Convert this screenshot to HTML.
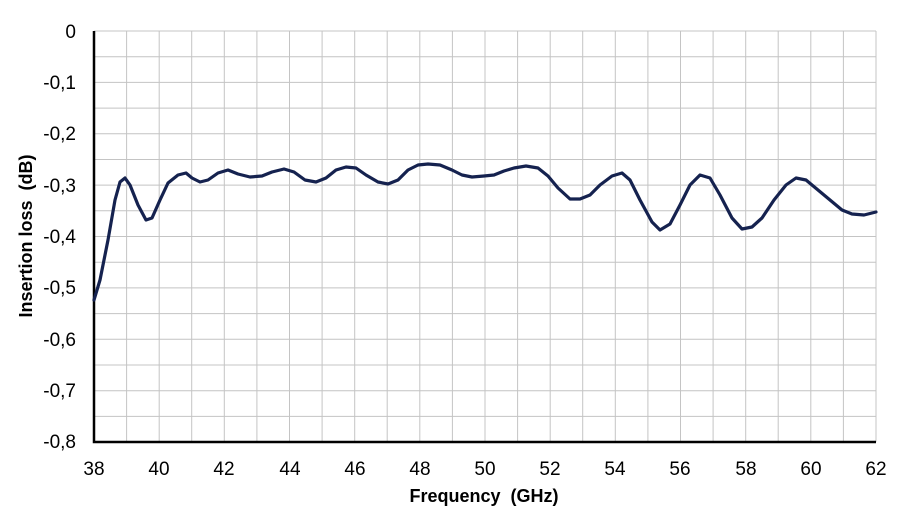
<!DOCTYPE html>
<html><head><meta charset="utf-8"><style>body{margin:0;background:#fff}svg{display:block}text{font-family:"Liberation Sans",Arial,sans-serif}</style></head><body>
<svg width="900" height="520" xmlns="http://www.w3.org/2000/svg">
<g stroke="#c4c4c4" stroke-width="1">
<path id="g" d=""/>
</g>
<script>
var d="";for(var i=1;i<=24;i++){var x=94+i*32.583;d+="M"+x.toFixed(1)+" 31V442";}
for(var j=0;j<16;j++){var y=31+j*25.69;d+="M94 "+y.toFixed(1)+"H876";}
document.getElementById("g").setAttribute("d",d);
</script>
<path d="M94 31V442H876" fill="none" stroke="#000" stroke-width="2.5"/>
<path fill="none" stroke="#15224f" stroke-width="3.2" stroke-linejoin="round" stroke-linecap="round" d="M94,300 L100,280 L108,240 L115,200 L120,182 L125,178 L130,185 L138,205 L146,220 L152,218 L160,200 L168,183 L178,175 L186,173 L192,178 L200,182 L208,180 L218,173 L228,170 L238,174 L250,177 L262,176 L272,172 L284,169 L294,172 L305,180 L316,182 L326,178 L336,170 L346,167 L356,168 L366,175 L378,182 L388,184 L398,180 L408,170 L418,165 L428,164 L440,165 L452,170 L462,175 L472,177 L484,176 L494,175 L504,171 L514,168 L526,166 L538,168 L548,176 L558,188 L570,199 L580,199 L590,195 L600,185 L612,176 L622,173 L630,180 L640,200 L652,222 L660,230 L670,224 L680,205 L690,185 L700,175 L710,178 L720,195 L732,218 L742,229 L752,227 L762,218 L774,200 L786,185 L796,178 L806,180 L818,190 L830,200 L842,210 L852,214 L864,215 L876,212"/>
<g font-size="19" text-anchor="end" fill="#000">
<text x="76" y="38">0</text><text x="76" y="89">-0,1</text><text x="76" y="140">-0,2</text><text x="76" y="192">-0,3</text><text x="76" y="243">-0,4</text><text x="76" y="294">-0,5</text><text x="76" y="346">-0,6</text><text x="76" y="397">-0,7</text><text x="76" y="448">-0,8</text>
</g>
<g font-size="19" text-anchor="middle" fill="#000">
<text x="94" y="475">38</text><text x="159" y="475">40</text><text x="224" y="475">42</text><text x="290" y="475">44</text><text x="355" y="475">46</text><text x="420" y="475">48</text><text x="485" y="475">50</text><text x="550" y="475">52</text><text x="615" y="475">54</text><text x="680" y="475">56</text><text x="746" y="475">58</text><text x="811" y="475">60</text><text x="876" y="475">62</text>
</g>
<text x="484" y="502" font-size="18" font-weight="bold" text-anchor="middle" xml:space="preserve">Frequency  (GHz)</text>
<text transform="translate(32,236) rotate(-90)" font-size="18" font-weight="bold" text-anchor="middle" xml:space="preserve">Insertion loss  (dB)</text>
</svg>
</body></html>
